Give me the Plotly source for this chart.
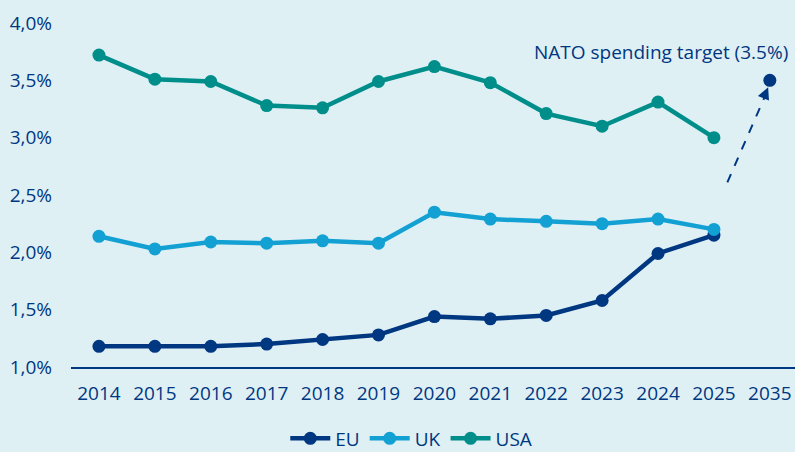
import plotly.graph_objects as go

years = ["2014", "2015", "2016", "2017", "2018", "2019", "2020", "2021", "2022", "2023", "2024", "2025", "2035"]
hist_years = years[:12]
eu = [1.18, 1.18, 1.18, 1.20, 1.24, 1.28, 1.44, 1.42, 1.45, 1.58, 1.99, 2.15]
uk = [2.14, 2.03, 2.09, 2.08, 2.10, 2.08, 2.35, 2.29, 2.27, 2.25, 2.29, 2.20]
usa = [3.72, 3.51, 3.49, 3.28, 3.26, 3.49, 3.62, 3.48, 3.21, 3.10, 3.31, 3.00]
target_year = ["2035"]
target_value = [3.5]
y_ticks = [1.0, 1.5, 2.0, 2.5, 3.0, 3.5, 4.0]
y_tick_labels = ["1,0%", "1,5%", "2,0%", "2,5%", "3,0%", "3,5%", "4,0%"]

NAVY = "#003781"
LIGHT = "#13A0D3"
TEAL = "#008E8A"
BG = "#DFF0F5"
FONT = "Open Sans"

fig = go.Figure()
for name, vals, col in [("EU", eu, NAVY), ("UK", uk, LIGHT), ("USA", usa, TEAL)]:
    fig.add_trace(go.Scatter(x=hist_years, y=vals, name=name, mode="lines+markers",
                             line=dict(color=col, width=4.5), marker=dict(color=col, size=13)))

fig.add_trace(go.Scatter(x=target_year, y=target_value, mode="markers", showlegend=False,
                         marker=dict(color=NAVY, size=13)))

# dashed arrow toward target
fig.add_shape(type="line", x0=11.24, y0=2.61, x1=11.93, y1=3.38,
              line=dict(color=NAVY, width=2, dash="dash"), xref="x", yref="y")
fig.add_annotation(x=11.97, y=3.44, ax=11.90, ay=3.36, xref="x", yref="y", axref="x", ayref="y",
                   text="", showarrow=True, arrowhead=2, arrowsize=1.2, arrowwidth=2, arrowcolor=NAVY)
fig.add_annotation(x=12.36, y=3.62, xref="x", yref="y", text="NATO spending target (3.5%)",
                   showarrow=False, xanchor="right", yanchor="bottom",
                   font=dict(color=NAVY, size=19, family=FONT))

fig.update_layout(
    width=795, height=452,
    paper_bgcolor=BG, plot_bgcolor=BG,
    margin=dict(l=71, r=0, t=23, b=85, autoexpand=False),
    font=dict(family=FONT, color=NAVY, size=19),
    legend=dict(orientation="h", x=0.47, xanchor="center", yref="container", y=0.03, yanchor="middle",
                font=dict(size=19, color=NAVY), itemwidth=40, tracegroupgap=0),
    xaxis=dict(type="category", categoryorder="array", categoryarray=years,
               range=[-0.5, 12.45], showgrid=False, showline=True, linecolor=NAVY, linewidth=2,
               ticks="", ticklabelstandoff=8, tickfont=dict(size=19, color=NAVY), zeroline=False),
    yaxis=dict(range=[1.0, 4.0], tickvals=y_ticks, ticktext=y_tick_labels,
               showgrid=False, showline=False, zeroline=False, ticks="",
               ticklabelstandoff=18, tickfont=dict(size=19, color=NAVY)),
)
fig.write_html("out.html", config={"displayModeBar": False},
               post_script="document.body.style.margin='0';")
